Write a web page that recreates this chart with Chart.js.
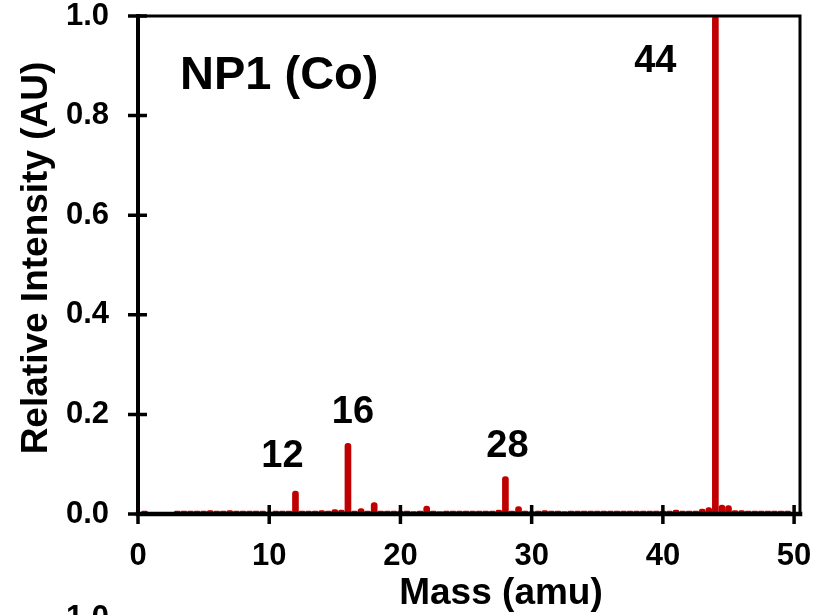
<!DOCTYPE html>
<html>
<head>
<meta charset="utf-8">
<script src="https://cdn.jsdelivr.net/npm/chart.js@4"></script>
<style>
  html, body { margin: 0; padding: 0; background: #ffffff; }
  #wrap { width: 826px; height: 615px; position: relative; }
</style>
</head>
<body>
<div id="wrap"><canvas id="spectrum" width="826" height="615"></canvas></div>
<script>
// Mass channels (amu), sampled every half unit
const masses = [
  0, 0.5, 1, 1.5, 2, 2.5, 3, 3.5, 4, 4.5,
  5, 5.5, 6, 6.5, 7, 7.5, 8, 8.5, 9, 9.5,
  10, 10.5, 11, 11.5, 12, 12.5, 13, 13.5, 14, 14.5,
  15, 15.5, 16, 16.5, 17, 17.5, 18, 18.5, 19, 19.5,
  20, 20.5, 21, 21.5, 22, 22.5, 23, 23.5, 24, 24.5,
  25, 25.5, 26, 26.5, 27, 27.5, 28, 28.5, 29, 29.5,
  30, 30.5, 31, 31.5, 32, 32.5, 33, 33.5, 34, 34.5,
  35, 35.5, 36, 36.5, 37, 37.5, 38, 38.5, 39, 39.5,
  40, 40.5, 41, 41.5, 42, 42.5, 43, 43.5, 44, 44.5,
  45, 45.5, 46, 46.5, 47, 47.5, 48, 48.5, 49, 49.5
];

// Relative intensity at each mass channel
const intensities = [
  0, 0.006, 0, 0, 0, 0, 0.006, 0.006, 0.006, 0.006,
  0.006, 0.007, 0.006, 0.006, 0.007, 0.006, 0.006, 0.006, 0.006, 0.006,
  0.004, 0.006, 0.006, 0.006, 0.046, 0.006, 0.006, 0.006, 0.007, 0.006,
  0.009, 0.008, 0.142, 0.006, 0.011, 0.006, 0.023, 0.006, 0.006, 0.006,
  0.006, 0.006, 0.005, 0.006, 0.016, 0.006, 0.005, 0.006, 0.006, 0.006,
  0.006, 0.006, 0.006, 0.006, 0.006, 0.008, 0.075, 0.006, 0.015, 0.006,
  0.005, 0.006, 0.007, 0.006, 0.006, 0.005, 0.006, 0.006, 0.006, 0.006,
  0.006, 0.006, 0.006, 0.006, 0.006, 0.006, 0.006, 0.006, 0.006, 0.006,
  0.006, 0.006, 0.008, 0.006, 0.006, 0.006, 0.010, 0.013, 1.0, 0.018,
  0.017, 0.007, 0.007, 0.006, 0.006, 0.006, 0.006, 0.006, 0.006, 0.006
];

const xTicks = [0, 10, 20, 30, 40, 50];
const yTicks = [0, 0.2, 0.4, 0.6, 0.8, 1.0];
const peakMasses = [12, 16, 28, 44];

const panelTitle = 'NP1 (Co)';
const xTitle = 'Mass (amu)';
const yTitle = 'Relative Intensity (AU)';
const nextPanelTopTick = '1.0';

// Label placement relative to each peak (pixels)
const peakLabelOffsets = {
  12: { dx: -13, dy: 24 },
  16: { dx: 5, dy: 20 },
  28: { dx: 2, dy: 20 },
  44: { dx: -60, dy: -56 }
};

const FONT = "'Liberation Sans', Arial, Helvetica, sans-serif";
const BAR_RED = '#C00000';

Chart.defaults.font.family = FONT;
Chart.defaults.font.weight = 'bold';
Chart.defaults.color = '#000000';

// Axis lines, crossing tick marks and the box around the plot area
const framePlugin = {
  id: 'frame',
  afterDatasetsDraw(chart) {
    const ctx = chart.ctx;
    const { left, right, top, bottom } = chart.chartArea;
    const xs = chart.scales.x, ys = chart.scales.y;
    ctx.save();
    ctx.strokeStyle = '#000000';
    ctx.lineCap = 'square';

    ctx.lineWidth = 3;
    ctx.beginPath();
    ctx.moveTo(left, top); ctx.lineTo(right, top);
    ctx.moveTo(right, top); ctx.lineTo(right, bottom);
    ctx.stroke();

    ctx.lineWidth = 4;
    ctx.beginPath();
    ctx.moveTo(left, top); ctx.lineTo(left, bottom);
    ctx.stroke();
    ctx.lineWidth = 4.5;
    ctx.beginPath();
    ctx.moveTo(left, bottom); ctx.lineTo(right, bottom);
    ctx.stroke();

    ctx.lineCap = 'butt';
    ctx.lineWidth = 3.5;
    ctx.beginPath();
    yTicks.forEach(v => {
      const py = ys.getPixelForValue(v);
      ctx.moveTo(left - 10, py); ctx.lineTo(left + 9, py);
    });
    xTicks.forEach(v => {
      const px = xs.getPixelForValue(v);
      ctx.moveTo(px, bottom - 9); ctx.lineTo(px, bottom + 10);
    });
    ctx.stroke();
    ctx.restore();
  }
};

// Panel title, peak mass labels, axis titles
const textPlugin = {
  id: 'texts',
  afterDraw(chart) {
    const ctx = chart.ctx;
    const xs = chart.scales.x, ys = chart.scales.y;
    ctx.save();
    ctx.fillStyle = '#000000';

    ctx.font = 'bold 47px ' + FONT;
    ctx.textAlign = 'left';
    ctx.textBaseline = 'alphabetic';
    ctx.fillText(panelTitle, 180, 89);

    ctx.font = 'bold 38px ' + FONT;
    ctx.textAlign = 'center';
    peakMasses.forEach(m => {
      const i = masses.indexOf(m);
      const off = peakLabelOffsets[m];
      const px = xs.getPixelForValue(m) + off.dx;
      const py = ys.getPixelForValue(intensities[i]) - off.dy;
      ctx.fillText(String(m), px, py);
    });

    ctx.font = 'bold 37px ' + FONT;
    ctx.textAlign = 'center';
    ctx.fillText(xTitle, 501, 604);

    ctx.save();
    ctx.translate(47, 258);
    ctx.rotate(-Math.PI / 2);
    ctx.fillText(yTitle, 0, 0);
    ctx.restore();

    // top tick label of the panel below, cut by the canvas edge
    ctx.font = 'bold 31px ' + FONT;
    ctx.textAlign = 'right';
    ctx.fillText(nextPanelTopTick, 109, 627);
    ctx.restore();
  }
};

new Chart(document.getElementById('spectrum'), {
  type: 'bar',
  data: {
    datasets: [{
      data: masses.map((m, i) => ({ x: m, y: intensities[i] })),
      backgroundColor: BAR_RED,
      borderWidth: 0,
      barThickness: 6,
      borderRadius: 3
    }]
  },
  options: {
    responsive: false,
    animation: false,
    devicePixelRatio: 1,
    layout: { padding: { left: 0, right: 26, top: 16, bottom: 0 } },
    plugins: { legend: { display: false }, tooltip: { enabled: false } },
    scales: {
      x: {
        type: 'linear',
        offset: false,
        min: 0,
        max: 50.45,
        grid: { display: false, drawTicks: false, offset: false },
        border: { display: false },
        afterBuildTicks: s => { s.ticks = xTicks.map(v => ({ value: v })); },
        afterFit: s => { s.height = 101; s.paddingLeft = 0; s.paddingRight = 0; },
        ticks: {
          autoSkip: false,
          maxRotation: 0,
          padding: 24,
          color: '#000000',
          font: { size: 31, weight: 'bold' },
          callback: v => String(v)
        }
      },
      y: {
        type: 'linear',
        min: 0,
        max: 1,
        grid: { display: false, drawTicks: false },
        border: { display: false },
        afterBuildTicks: s => { s.ticks = yTicks.map(v => ({ value: v })); },
        afterFit: s => { s.width = 138; s.paddingTop = 0; s.paddingBottom = 0; },
        ticks: {
          padding: 29,
          color: '#000000',
          font: { size: 31, weight: 'bold' },
          callback: v => Number(v).toFixed(1)
        }
      }
    }
  },
  plugins: [framePlugin, textPlugin]
});
</script>
</body>
</html>
